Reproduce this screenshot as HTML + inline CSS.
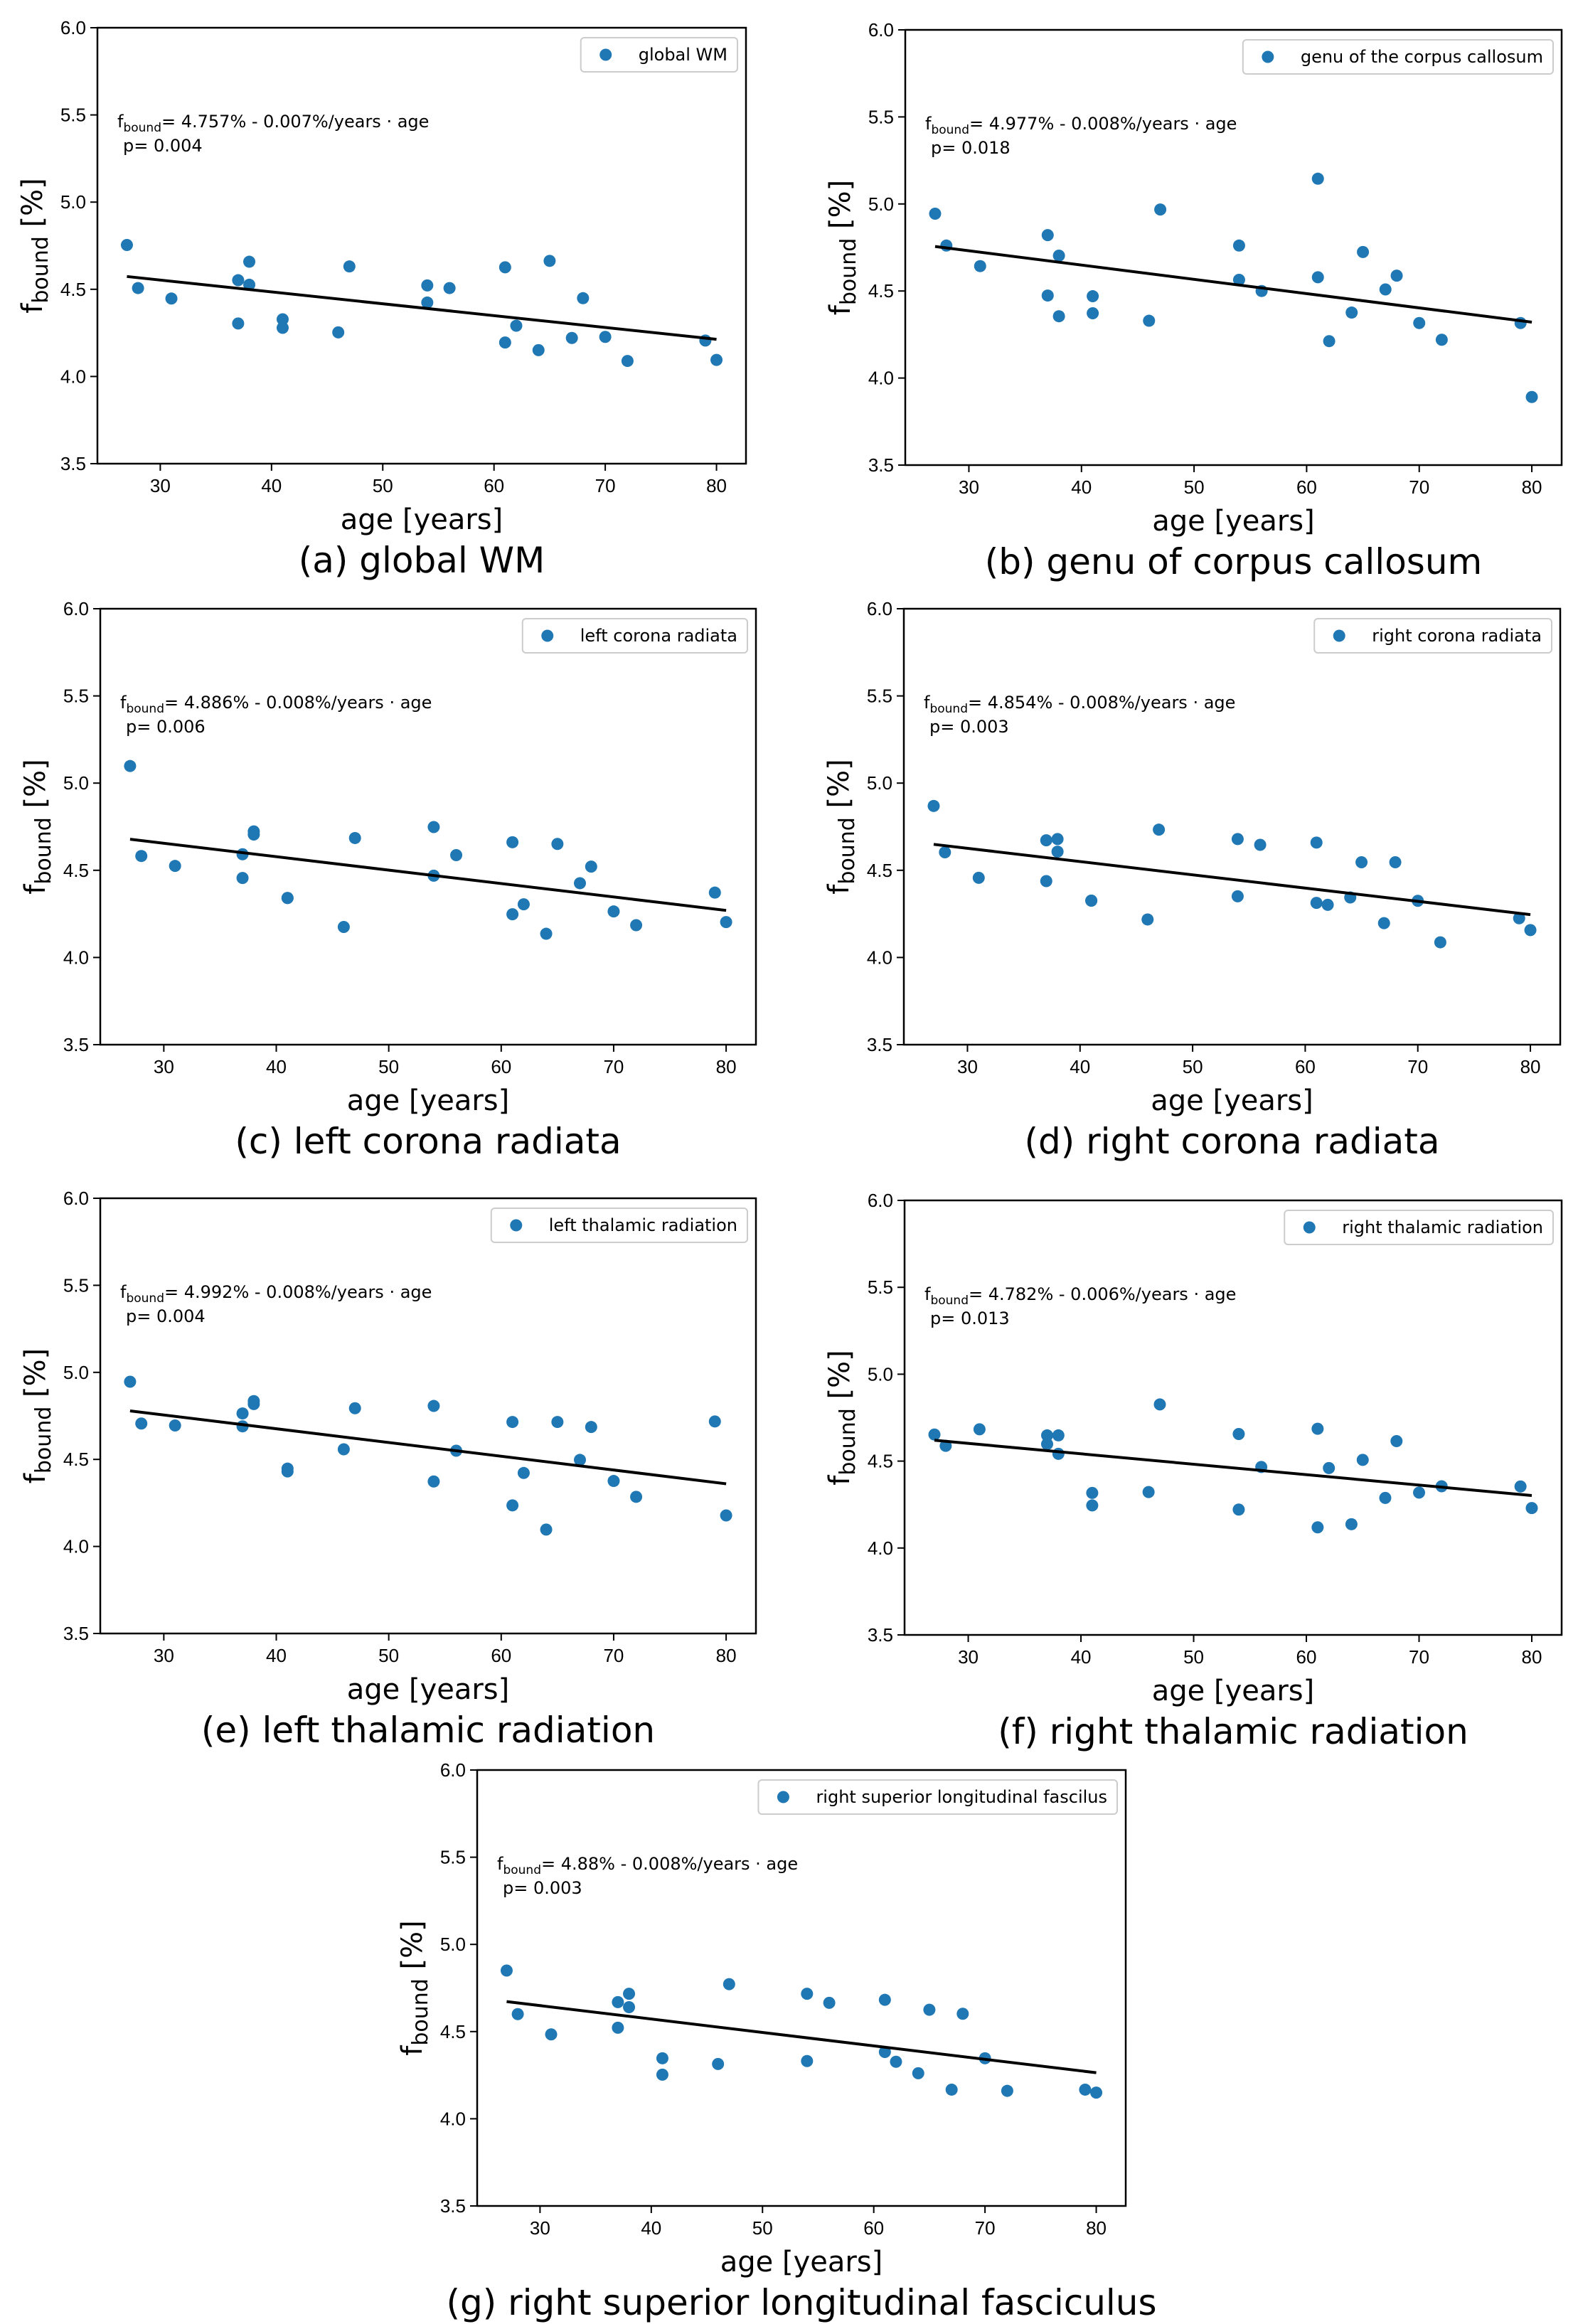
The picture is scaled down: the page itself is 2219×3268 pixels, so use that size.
<!DOCTYPE html>
<html><head><meta charset="utf-8"><style>
html,body{margin:0;padding:0;background:#fff;}
svg{display:block;}
</style></head><body>
<svg id="fig" width="2219" height="3268" viewBox="0 0 2219 3268" xmlns="http://www.w3.org/2000/svg"></svg>
<script>
// ---------- data ----------
const ages = [27,28,31,37,37,38,38,41,41,46,47,54,54,56,61,61,62,64,65,67,68,70,72,79,80];
const valsA = [4.754,4.507,4.447,4.552,4.304,4.658,4.526,4.328,4.279,4.253,4.631,4.522,4.424,4.507,4.626,4.195,4.291,4.151,4.663,4.221,4.449,4.227,4.089,4.206,4.095];
const valsB = [4.944,4.761,4.643,4.821,4.474,4.703,4.355,4.470,4.372,4.329,4.968,4.761,4.564,4.500,5.145,4.579,4.212,4.376,4.724,4.509,4.588,4.316,4.220,4.316,3.891];
const valsC = [5.098,4.582,4.525,4.592,4.456,4.723,4.705,4.341,4.341,4.175,4.685,4.748,4.469,4.587,4.661,4.248,4.305,4.136,4.651,4.426,4.521,4.264,4.185,4.372,4.203];
const valsD = [4.869,4.603,4.457,4.672,4.438,4.679,4.607,4.326,4.326,4.218,4.733,4.679,4.351,4.646,4.659,4.313,4.302,4.344,4.546,4.197,4.546,4.325,4.087,4.225,4.157];
const valsE = [4.946,4.706,4.695,4.764,4.690,4.835,4.818,4.447,4.431,4.558,4.794,4.807,4.373,4.550,4.715,4.236,4.422,4.097,4.715,4.497,4.686,4.376,4.285,4.718,4.178];
const valsF = [4.653,4.588,4.683,4.648,4.598,4.648,4.542,4.317,4.245,4.322,4.826,4.656,4.221,4.466,4.686,4.119,4.460,4.137,4.507,4.288,4.615,4.319,4.355,4.354,4.230];
const valsG = [4.850,4.600,4.484,4.669,4.522,4.717,4.640,4.347,4.253,4.314,4.772,4.717,4.331,4.665,4.682,4.383,4.327,4.261,4.625,4.167,4.602,4.347,4.160,4.167,4.150];
const intercepts = [4.757,4.977,4.886,4.854,4.992,4.782,4.880];
const slopes = [-0.0068,-0.0082,-0.0077,-0.0076,-0.0079,-0.0060,-0.0077];
const interceptLabels = ["4.757","4.977","4.886","4.854","4.992","4.782","4.88"];
const slopeLabels = ["0.007","0.008","0.008","0.008","0.008","0.006","0.008"];
const pLabels = ["0.004","0.018","0.006","0.003","0.004","0.013","0.003"];
const legendLabels = ["global WM","genu of the corpus callosum","left corona radiata","right corona radiata","left thalamic radiation","right thalamic radiation","right superior longitudinal fascilus"];
const captions = ["(a) global WM","(b) genu of corpus callosum","(c) left corona radiata","(d) right corona radiata","(e) left thalamic radiation","(f) right thalamic radiation","(g) right superior longitudinal fasciculus"];
const xTicks = [30,40,50,60,70,80];
const yTicks = [3.5,4.0,4.5,5.0,5.5,6.0];
const yTickLabels = ["3.5","4.0","4.5","5.0","5.5","6.0"];
const allVals = [valsA,valsB,valsC,valsD,valsE,valsF,valsG];

// ---------- layout (pixel boxes) ----------
const boxes = [
  {L:137,R:1049,T:39,B:652},
  {L:1273,R:2196,T:42,B:654},
  {L:141,R:1063,T:856,B:1469},
  {L:1271,R:2194,T:856,B:1469},
  {L:141,R:1063,T:1685,B:2297},
  {L:1272,R:2196,T:1688,B:2299},
  {L:671,R:1583,T:2489,B:3102}
];
const XMIN=24.35, XMAX=82.65, YMIN=3.5, YMAX=6.0;
const NS="http://www.w3.org/2000/svg";
const svg=document.getElementById('fig');
const SANS='"Liberation Sans", "DejaVu Sans", sans-serif';
const DJ='"DejaVu Sans", "Liberation Sans", sans-serif';
function mk(tag,attrs,parent){const e=document.createElementNS(NS,tag);for(const k in attrs)e.setAttribute(k,attrs[k]);(parent||svg).appendChild(e);return e;}

boxes.forEach((b,i)=>{
  const sx=v=>b.L+(v-XMIN)/(XMAX-XMIN)*(b.R-b.L);
  const sy=v=>b.B-(v-YMIN)/(YMAX-YMIN)*(b.B-b.T);
  const g=mk('g',{});
  
  

  xTicks.forEach(t=>{
    const tk=mk('line',{x1:sx(t),x2:sx(t),y1:b.B,y2:b.B+10,stroke:'#000','stroke-width':2},g);
    
    
    const tl=mk('text',{x:sx(t),y:b.B+40,'font-size':26,'text-anchor':'middle','font-family':SANS},g);
    tl.textContent=t;
    
    
  });
  yTicks.forEach((t,k)=>{
    const tk=mk('line',{x1:b.L-10,x2:b.L,y1:sy(t),y2:sy(t),stroke:'#000','stroke-width':2},g);
    
    
    const tl=mk('text',{x:b.L-16,y:sy(t)+9,'font-size':26,'text-anchor':'end','font-family':SANS},g);
    tl.textContent=yTickLabels[k];
    
    
  });

  const vals=allVals[i];
  ages.forEach((a,k)=>{
    const c=mk('circle',{cx:sx(a),cy:sy(vals[k]),r:8.5,fill:'#1f77b4'},g);
    
    
  });
  const a0=27,a1=80;
  const ln=mk('line',{x1:sx(a0),y1:sy(intercepts[i]+slopes[i]*a0),x2:sx(a1),y2:sy(intercepts[i]+slopes[i]*a1),stroke:'#000','stroke-width':4},g);
  
  

  const fr=mk('rect',{x:b.L,y:b.T,width:b.R-b.L,height:b.B-b.T,fill:'none',stroke:'#000','stroke-width':2.5},g);
  
  

  const an=mk('text',{x:b.L+28,y:b.T+140,'font-size':24,'font-family':DJ},g);
  
  
  const t1=mk('tspan',{},an);t1.textContent='f';
  const t2=mk('tspan',{'font-size':17,dy:6},an);t2.textContent='bound';
  const t3=mk('tspan',{dy:-6},an);t3.textContent='= '+interceptLabels[i]+'% - '+slopeLabels[i]+'%/years · age';
  const pv=mk('text',{x:b.L+36,y:b.T+174,'font-size':24,'font-family':DJ},g);
  pv.textContent='p= '+pLabels[i];
  
  

  const lt=mk('text',{y:b.T+46,'font-size':24,'font-family':DJ},g);
  lt.textContent=legendLabels[i];
  const w=lt.getComputedTextLength();
  const lw=81+w+14, lx=b.R-12-lw;
  lt.setAttribute('x',lx+81);
  const lr=mk('rect',{x:lx,y:b.T+14,width:lw,height:48,rx:5,fill:'#fff',stroke:'#ccc','stroke-width':2},g);
  g.insertBefore(lr,lt);
  
  
  
  
  const lm=mk('circle',{cx:lx+35,cy:b.T+38,r:8.5,fill:'#1f77b4'},g);
  
  

  const cx=(b.L+b.R)/2, cy=(b.T+b.B)/2;
  const xl=mk('text',{x:cx,y:b.B+92,'font-size':40,'text-anchor':'middle','font-family':DJ},g);
  xl.textContent='age [years]';
  
  
  const yl=mk('text',{x:0,y:0,'font-size':40,'text-anchor':'middle','font-family':DJ,transform:'translate('+(b.L-78)+','+cy+') rotate(-90)'},g);
  
  
  const y1=mk('tspan',{},yl);y1.textContent='f';
  const y2=mk('tspan',{'font-size':30,dy:8},yl);y2.textContent='bound';
  const y3=mk('tspan',{dy:-8},yl);y3.textContent=' [%]';

  const cp=mk('text',{x:cx,y:b.B+153,'font-size':50,'text-anchor':'middle','font-family':DJ},g);
  cp.textContent=captions[i];
  
  
});
</script>
</body></html>
